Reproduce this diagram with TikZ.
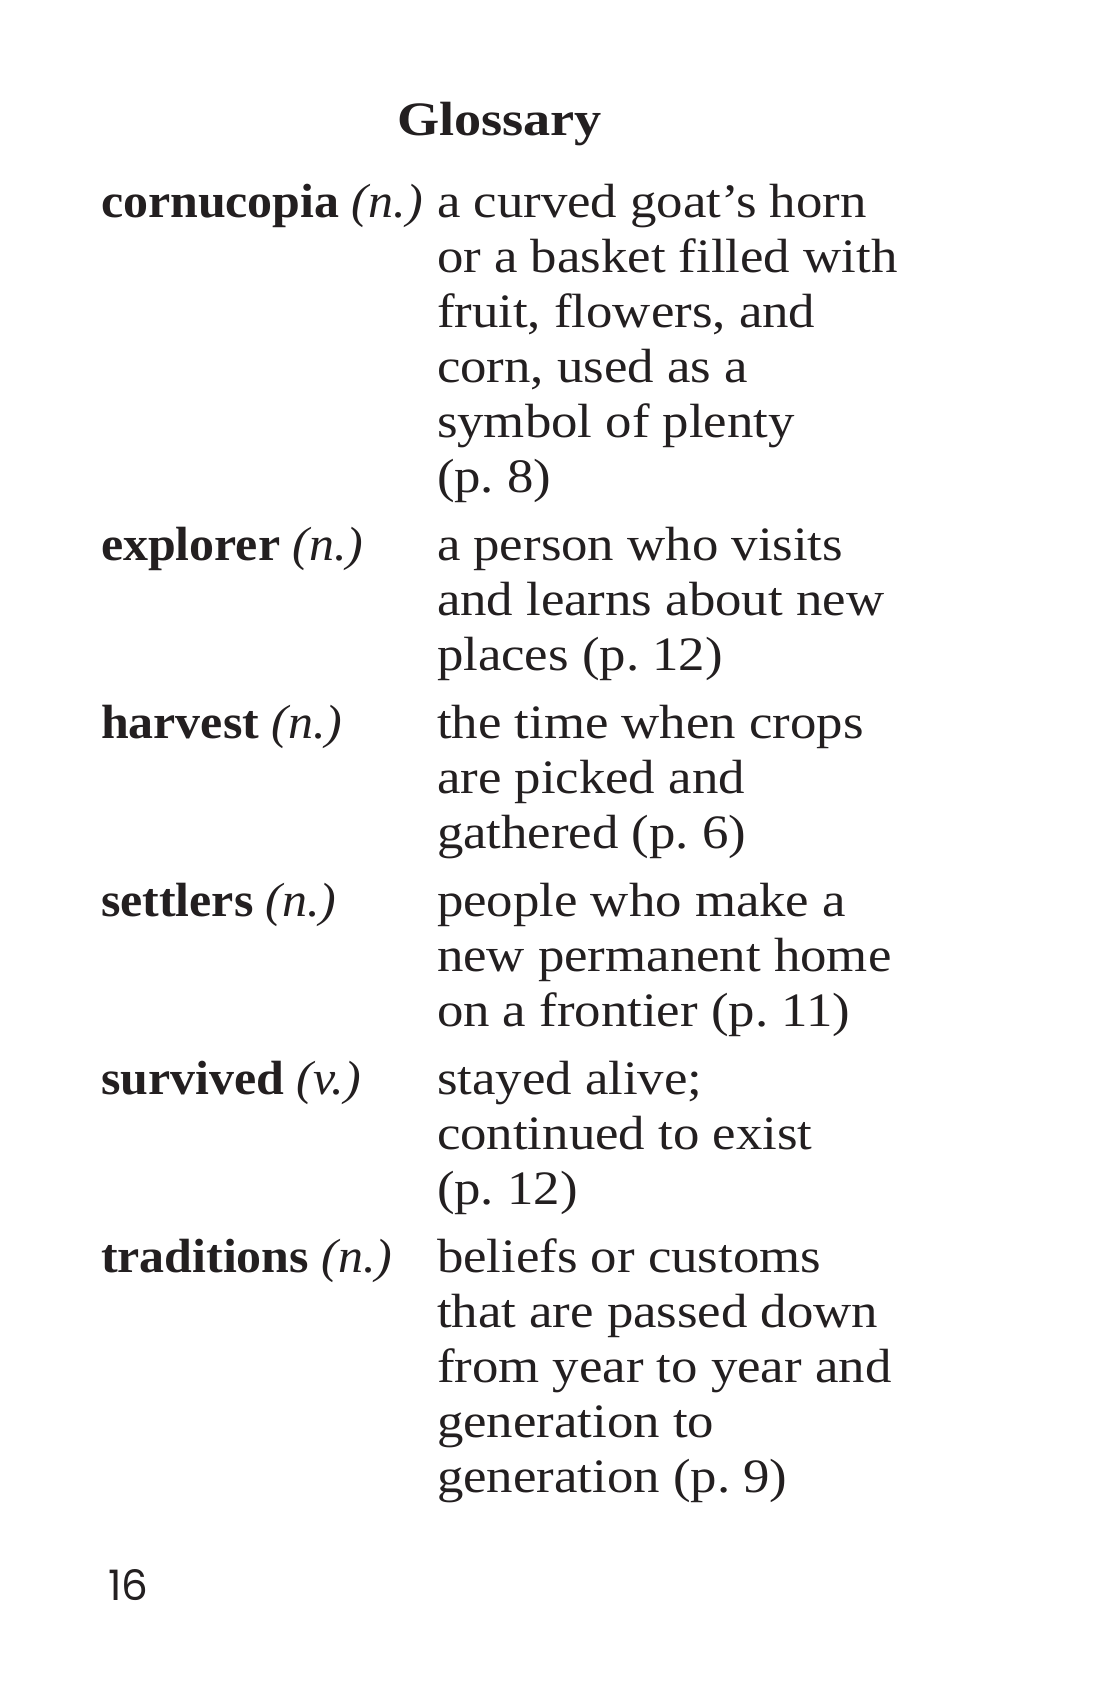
\documentclass[tikz,border=0pt]{standalone}
\usepackage{fontspec}
\setmainfont{Liberation Serif}
\newfontfamily\regf[FakeStretch=1.10]{Liberation Serif}
\newfontfamily\termf[FakeStretch=1.04]{Liberation Serif}
\newfontfamily\titlef[FakeStretch=1.13]{Liberation Serif}
\newfontfamily\numfont{Poppins}
\definecolor{ink}{HTML}{231F20}
\tikzset{
  txt/.style={anchor=base west, inner sep=0pt, outer sep=0pt, text=ink},
  term/.style={txt, font=\termf\fontsize{48}{55}\selectfont\frenchspacing},
  deftext/.style={txt, font=\regf\fontsize{48}{55}\selectfont\frenchspacing},
  titletext/.style={txt, font=\titlef\fontsize{48}{55}\selectfont\bfseries},
  pagenum/.style={anchor=base west, inner sep=0pt, text=ink, font=\numfont\fontsize{42}{50}\selectfont}
}
\newcommand\tm[2]{{\bfseries #1} {\itshape #2}}
\begin{document}
\begin{tikzpicture}[x=1pt,y=1pt]
\useasboundingbox (0,0) rectangle (1100,-1700);
\fill[white] (0,0) rectangle (1100,-1700);
\node[titletext] (title) at (397,-135) {Glossary};
% cornucopia
\node[term] (t1) at (101,-217) {\tm{cornucopia}{(n.)}};
\node[deftext] (d1a) at (437,-217) {a curved goat’s horn};
\node[deftext] (d1b) at (437,-272) {or a basket filled with};
\node[deftext] (d1c) at (437,-327) {fruit, flowers, and};
\node[deftext] (d1d) at (437,-382) {corn, used as a};
\node[deftext] (d1e) at (437,-437) {symbol of plenty};
\node[deftext] (d1f) at (437,-492) {(p. 8)};
% explorer
\node[term] (t2) at (101,-560) {\tm{explorer}{(n.)}};
\node[deftext] (d2a) at (437,-560) {a person who visits};
\node[deftext] (d2b) at (437,-615) {and learns about new};
\node[deftext] (d2c) at (437,-670) {places (p. 12)};
% harvest
\node[term] (t3) at (101,-738) {\tm{harvest}{(n.)}};
\node[deftext] (d3a) at (437,-738) {the time when crops};
\node[deftext] (d3b) at (437,-793) {are picked and};
\node[deftext] (d3c) at (437,-848) {gathered (p. 6)};
% settlers
\node[term] (t4) at (101,-916) {\tm{settlers}{(n.)}};
\node[deftext] (d4a) at (437,-916) {people who make a};
\node[deftext] (d4b) at (437,-971) {new permanent home};
\node[deftext] (d4c) at (437,-1026) {on a frontier (p. 11)};
% survived
\node[term] (t5) at (101,-1094) {\tm{survived}{(v.)}};
\node[deftext] (d5a) at (437,-1094) {stayed alive;};
\node[deftext] (d5b) at (437,-1149) {continued to exist};
\node[deftext] (d5c) at (437,-1204) {(p. 12)};
% traditions
\node[term] (t6) at (101,-1272) {\tm{traditions}{(n.)}};
\node[deftext] (d6a) at (437,-1272) {beliefs or customs};
\node[deftext] (d6b) at (437,-1327) {that are passed down};
\node[deftext] (d6c) at (437,-1382) {from year to year and};
\node[deftext] (d6d) at (437,-1437) {generation to};
\node[deftext] (d6e) at (437,-1492) {generation (p. 9)};
\node[pagenum] (pg) at (108,-1600) {16};
\end{tikzpicture}
\end{document}
